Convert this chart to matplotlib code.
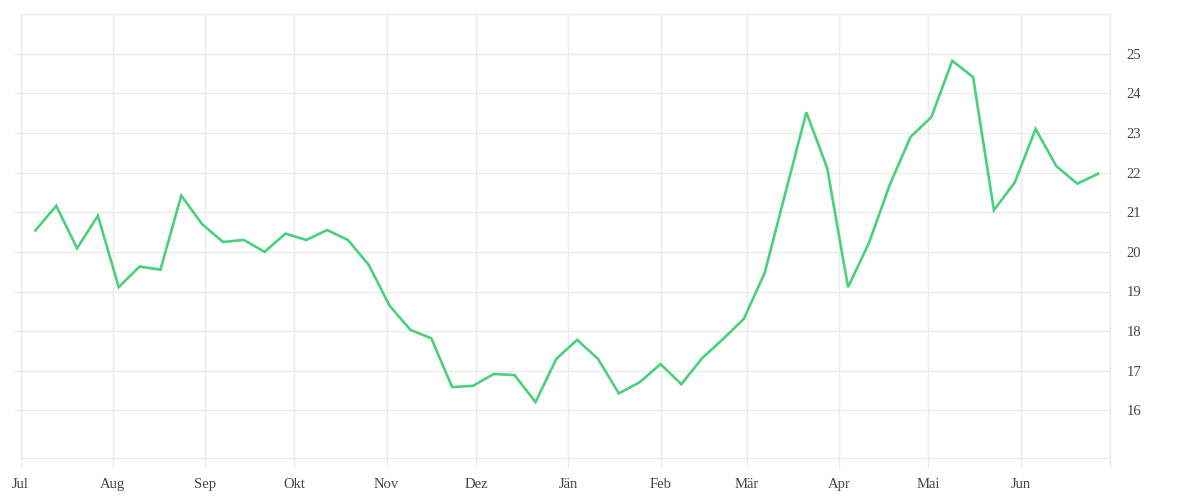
import numpy as np
import pandas as pd
import matplotlib
matplotlib.use('Agg')
import matplotlib.pyplot as plt
import matplotlib.dates as mdates

# weekly values, Jul -> Jun
start_date = '2023-07-06'
values = [20.54, 21.16, 20.09, 20.91, 19.11, 19.63, 19.55, 21.42, 20.70, 20.25,
          20.30, 20.00, 20.46, 20.30, 20.55, 20.30, 19.67, 18.64, 18.03, 17.82,
          16.59, 16.62, 16.92, 16.89, 16.21, 17.30, 17.78, 17.30, 16.43, 16.71,
          17.17, 16.66, 17.32, 17.80, 18.31, 19.47, 21.50, 23.52, 22.11, 19.11,
          20.22, 21.69, 22.90, 23.40, 24.82, 24.41, 21.05, 21.75, 23.10, 22.16,
          21.72, 21.97]
month_labels = ['Jul', 'Aug', 'Sep', 'Okt', 'Nov', 'Dez', 'Jän', 'Feb', 'Mär',
                'Apr', 'Mai', 'Jun', '']
y_ticks = [16, 17, 18, 19, 20, 21, 22, 23, 24, 25]

dates = pd.date_range(start_date, periods=len(values), freq='7D')
month_starts = pd.date_range('2023-07-01', '2024-07-01', freq='MS')

grid_col = '#ebebeb'
text_col = '#444444'

fig = plt.figure(figsize=(12, 5), dpi=100)
ax = fig.add_axes([20.5 / 1200, 1 - 458 / 500, (1110 - 20.5) / 1200, (458 - 14) / 500])

ax.plot(dates, values, color='#4bd17b', linewidth=1.9, solid_joinstyle='miter')

ax.set_xlim(pd.Timestamp('2023-07-01'), pd.Timestamp('2024-07-01'))
ax.set_ylim(14.8, 26.0)

ax.set_xticks(month_starts)
ax.set_xticklabels(month_labels)
ax.set_yticks(y_ticks)
ax.yaxis.tick_right()

ax.grid(True, color=grid_col, linewidth=1)
ax.set_axisbelow(True)
for s in ax.spines.values():
    s.set_color(grid_col)
    s.set_linewidth(1)

ax.tick_params(axis='x', length=7.5, width=1, color=grid_col, pad=7,
               labelsize=10.5, labelcolor=text_col)
ax.tick_params(axis='y', which='both', right=True, left=False, length=0, pad=12,
               labelsize=10.5, labelcolor=text_col)
# short left tick stubs like the reference
for yt in y_ticks:
    ax.plot([-0.005, 0], [yt, yt], transform=ax.get_yaxis_transform(),
            color=grid_col, linewidth=1, clip_on=False)

for lab in ax.get_xticklabels() + ax.get_yticklabels():
    lab.set_fontfamily('Liberation Serif')

plt.savefig('out.png', dpi=100)
